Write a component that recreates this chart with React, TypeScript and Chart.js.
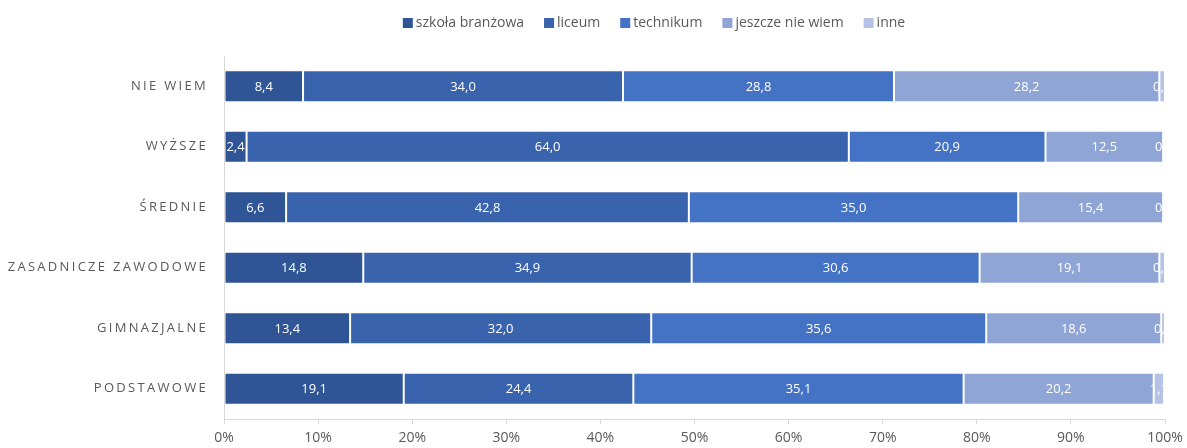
import React, { useEffect, useRef } from "react";
import { Chart, registerables } from "chart.js";

Chart.register(...registerables);

const categories = ["NIE WIEM", "WYŻSZE", "ŚREDNIE", "ZASADNICZE ZAWODOWE", "GIMNAZJALNE", "PODSTAWOWE"];
const seriesNames = ["szkoła branżowa", "liceum", "technikum", "jeszcze nie wiem", "inne"];
const szkolaBranzowa = [8.4, 2.4, 6.6, 14.8, 13.4, 19.1];
const liceum = [34.0, 64.0, 42.8, 34.9, 32.0, 24.4];
const technikum = [28.8, 20.9, 35.0, 30.6, 35.6, 35.1];
const jeszczeNieWiem = [28.2, 12.5, 15.4, 19.1, 18.6, 20.2];
const inne = [0.6, 0.2, 0.2, 0.6, 0.4, 1.1];
const xTicks = [0, 10, 20, 30, 40, 50, 60, 70, 80, 90, 100];

const colors = ["#2f5597", "#3a63ad", "#4472c4", "#8fa5d6", "#b4c3e5"];
const FONT = "'Open Sans', sans-serif";
const TEXT_GREY = "#595959";
const AXIS_GREY = "#d9d9d9";

const fmt = (v: number) => v.toFixed(1).replace(".", ",");

const letterSpacingPlugin = {
  id: "yLetterSpacing",
  beforeDraw(chart: any) {
    const y = chart.scales.y;
    if (y && !y.__wrapped) {
      const orig = y.drawLabels;
      y.drawLabels = function (area: any) {
        const ctx = chart.ctx;
        ctx.save();
        ctx.letterSpacing = "2.3px";
        orig.call(this, area);
        ctx.restore();
      };
      y.__wrapped = true;
    }
  },
};

const dataLabelPlugin = {
  id: "segmentLabels",
  afterDatasetsDraw(chart: any) {
    const ctx = chart.ctx;
    const area = chart.chartArea;
    ctx.save();
    ctx.beginPath();
    ctx.rect(area.left, area.top, area.right - area.left, area.bottom - area.top);
    ctx.clip();
    ctx.font = `13px ${FONT}`;
    ctx.fillStyle = "#ffffff";
    ctx.textAlign = "center";
    ctx.textBaseline = "middle";
    chart.data.datasets.forEach((ds: any, di: number) => {
      const meta = chart.getDatasetMeta(di);
      meta.data.forEach((el: any, i: number) => {
        const v = ds.data[i];
        const cx = (el.x + el.base) / 2;
        ctx.fillText(fmt(v), cx, el.y + 1);
      });
    });
    ctx.restore();
  },
};

const legendPlugin = {
  id: "customLegend",
  afterDraw(chart: any) {
    const ctx = chart.ctx;
    ctx.save();
    ctx.font = `14px ${FONT}`;
    ctx.textBaseline = "middle";
    ctx.textAlign = "left";
    const box = 10;
    const gapText = 3;
    const gapItem = 20;
    const items = chart.data.datasets.map((ds: any) => ({
      label: ds.label,
      color: ds.backgroundColor,
      w: ctx.measureText(ds.label).width,
    }));
    const total =
      items.reduce((s: number, it: any) => s + box + gapText + it.w, 0) + gapItem * (items.length - 1);
    const centerX = 654;
    const cy = 23;
    let x = centerX - total / 2;
    items.forEach((it: any) => {
      ctx.fillStyle = it.color;
      ctx.fillRect(x, cy - box / 2, box, box);
      x += box + gapText;
      ctx.fillStyle = TEXT_GREY;
      ctx.fillText(it.label, x, cy);
      x += it.w + gapItem;
    });
    ctx.restore();
  },
};

export default function App() {
  const canvasRef = useRef<HTMLCanvasElement | null>(null);

  useEffect(() => {
    document.body.style.margin = "0";
    const canvas = canvasRef.current;
    if (!canvas) return;
    Chart.defaults.font.family = FONT;
    const seriesData = [szkolaBranzowa, liceum, technikum, jeszczeNieWiem, inne];
    const chart = new Chart(canvas, {
      type: "bar",
      data: {
        labels: categories,
        datasets: seriesNames.map((name, i) => ({
          label: name,
          data: seriesData[i],
          backgroundColor: colors[i],
          borderColor: "rgba(255,255,255,0.35)",
          borderWidth: 1,
          borderSkipped: false,
          categoryPercentage: 1,
          barPercentage: 0.53,
        })),
      },
      options: {
        indexAxis: "y",
        animation: false,
        responsive: true,
        maintainAspectRatio: false,
        layout: { padding: { top: 56, right: 22, bottom: 0, left: 0 } },
        plugins: {
          legend: { display: false },
          tooltip: { enabled: false },
        },
        scales: {
          x: {
            stacked: true,
            min: 0,
            max: 100,
            afterBuildTicks: (scale: any) => {
              scale.ticks = xTicks.map((v) => ({ value: v }));
            },
            afterFit: (scale: any) => {
              scale.height = 29;
              scale.paddingLeft = 0;
              scale.paddingRight = 0;
            },
            ticks: {
              callback: (v: any) => `${v}%`,
              color: TEXT_GREY,
              font: { size: 14, family: FONT },
              padding: 6,
              maxRotation: 0,
            },
            grid: {
              display: true,
              drawOnChartArea: false,
              drawTicks: true,
              tickLength: 5,
              color: AXIS_GREY,
            },
            border: { display: true, color: AXIS_GREY, width: 1 },
          },
          y: {
            stacked: true,
            afterFit: (scale: any) => {
              scale.width = 224;
            },
            ticks: {
              color: TEXT_GREY,
              font: { size: 13, family: FONT },
              padding: 16,
            },
            grid: { display: false, drawTicks: false },
            border: { display: true, color: AXIS_GREY, width: 1 },
          },
        },
      },
      plugins: [letterSpacingPlugin, dataLabelPlugin, legendPlugin],
    } as any);
    return () => chart.destroy();
  }, []);

  return (
    <div style={{ position: "relative", width: "1187px", height: "448px" }}>
      <canvas ref={canvasRef} />
    </div>
  );
}
